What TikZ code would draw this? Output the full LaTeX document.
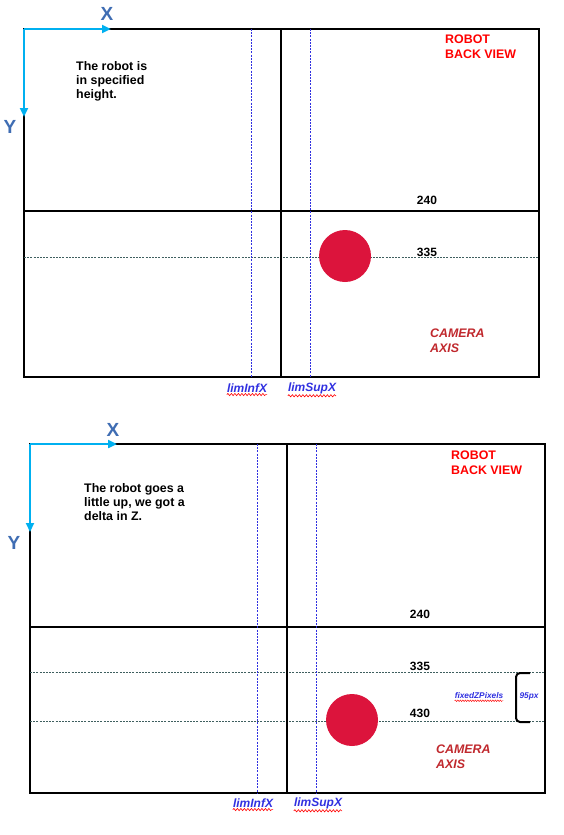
\documentclass[tikz,border=0pt]{standalone}
\usepackage{fontspec}
\setmainfont{Liberation Sans}
\usetikzlibrary{arrows.meta,decorations.pathmorphing}
\definecolor{axiscyan}{HTML}{00B0F0}
\definecolor{axislbl}{HTML}{3F6DB3}
\definecolor{ballred}{HTML}{DC143C}
\definecolor{camred}{HTML}{C0282D}
\definecolor{rowgray}{HTML}{3F5F5F}
\definecolor{limblue}{HTML}{3030E0}

\tikzset{
  frame/.style={line width=2.6pt},
  rowline/.style={line width=1.4pt},
  dashrow/.style={rowgray,line width=.6pt,dash pattern=on 2pt off 1.2pt},
  limline/.style={limblue,line width=.8pt,dash pattern=on 2pt off 1.2pt},
  axisarrow/.style={axiscyan,line width=2.6pt,-{Triangle[length=9pt,width=8pt]}},
  axistext/.style={text=axislbl,font=\fontsize{19}{19}\selectfont\bfseries,inner sep=0pt},
  note/.style={anchor=north west,align=left,inner sep=0pt,font=\fontsize{12.4}{14.3}\selectfont\bfseries},
  title/.style={note,text=red},
  camtext/.style={note,text=camred,font=\fontsize{12.4}{15}\selectfont\bfseries\itshape},
  rowlabel/.style={inner sep=0pt,font=\fontsize{12}{14}\selectfont\bfseries},
  limtext/.style={text=limblue,inner sep=0pt,font=\fontsize{12}{14}\selectfont\bfseries\itshape},
  smalltext/.style={limtext,font=\fontsize{8.3}{9}\selectfont\bfseries\itshape},
  squiggle/.style={red,line width=.6pt,decorate,decoration={snake,segment length=3.5pt,amplitude=1.1pt}},
  ball/.style={circle,fill=ballred,minimum size=52pt,inner sep=0pt}
}

\begin{document}
\begin{tikzpicture}[x=1pt,y=-1pt]
\useasboundingbox (0,0) rectangle (563,835);
% upper view
\draw[frame] (24,29) rectangle (539,377);
\draw[rowline] (24,211) -- (539,211);
\draw[dashrow] (24,257) -- (539,257);
\draw[rowline] (281,29) -- (281,377);
\draw[limline] (251,29) -- (251,377);
\draw[limline] (310,29) -- (310,377);
\node[ball] (ballA) at (345,256) {};
\coordinate (oA) at (24,29);
\coordinate (xA) at (111,29);
\coordinate (yA) at (24,117);
\draw[axisarrow] (oA) -- (xA);
\draw[axisarrow] (oA) -- (yA);
\node[axistext] (xlabA) at (107,14) {X};
\node[axistext] (ylabA) at (10,127) {Y};
\node[note] (noteA) at (76,61) {The robot is\\in specified\\height.};
\node[title] (titleA) at (445,35) {ROBOT\\BACK VIEW};
\node[camtext] (camA) at (430,329) {CAMERA\\AXIS};
\node[rowlabel] (rowA1) at (427,200) {240};
\node[rowlabel] (rowA2) at (427,252) {335};
\node[limtext] (infA) at (247,388) {limInfX};
\node[limtext] (supA) at (312,388) {limSupX};
\draw[squiggle] ([yshift=-2pt]infA.south west) -- ([yshift=-2pt]infA.south east);
\draw[squiggle] ([yshift=-2pt]supA.south west) -- ([yshift=-2pt]supA.south east);
% lower view
\draw[frame] (30,444) rectangle (545,793);
\draw[rowline] (30,627) -- (545,627);
\draw[dashrow] (30,672) -- (545,672);
\draw[dashrow] (30,721) -- (545,721);
\draw[rowline] (287,444) -- (287,793);
\draw[limline] (257,444) -- (257,793);
\draw[limline] (316,444) -- (316,793);
\node[ball] (ballB) at (352,720) {};
\coordinate (oB) at (30,444);
\coordinate (xB) at (117,444);
\coordinate (yB) at (30,532);
\draw[axisarrow] (oB) -- (xB);
\draw[axisarrow] (oB) -- (yB);
\node[axistext] (xlabB) at (113,430) {X};
\node[axistext] (ylabB) at (14,543) {Y};
\node[note] (noteB) at (84,483) {The robot goes a\\little up, we got a\\delta in Z.};
\node[title] (titleB) at (451,451) {ROBOT\\BACK VIEW};
\node[camtext] (camB) at (436,745) {CAMERA\\AXIS};
\node[rowlabel] (rowB1) at (420,614) {240};
\node[rowlabel] (rowB2) at (420,666) {335};
\node[rowlabel] (rowB3) at (420,713) {430};
\node[limtext] (infB) at (253,803) {limInfX};
\node[limtext] (supB) at (318,803) {limSupX};
\draw[squiggle] ([yshift=-2pt]infB.south west) -- ([yshift=-2pt]infB.south east);
\draw[squiggle] ([yshift=-2pt]supB.south west) -- ([yshift=-2pt]supB.south east);
\node[smalltext] (fixB) at (479,696) {fixedZPixels};
\draw[squiggle,line width=.45pt,decoration={snake,segment length=2.5pt,amplitude=.8pt}] ([yshift=-1.5pt]fixB.south west) -- ([yshift=-1.5pt]fixB.south east);
\node[smalltext] (pxB) at (529,696) {95px};
\draw[line width=2pt,rounded corners=4pt] (530,673) -- (516,673) -- (516,722) -- (530,722);
\end{tikzpicture}
\end{document}
